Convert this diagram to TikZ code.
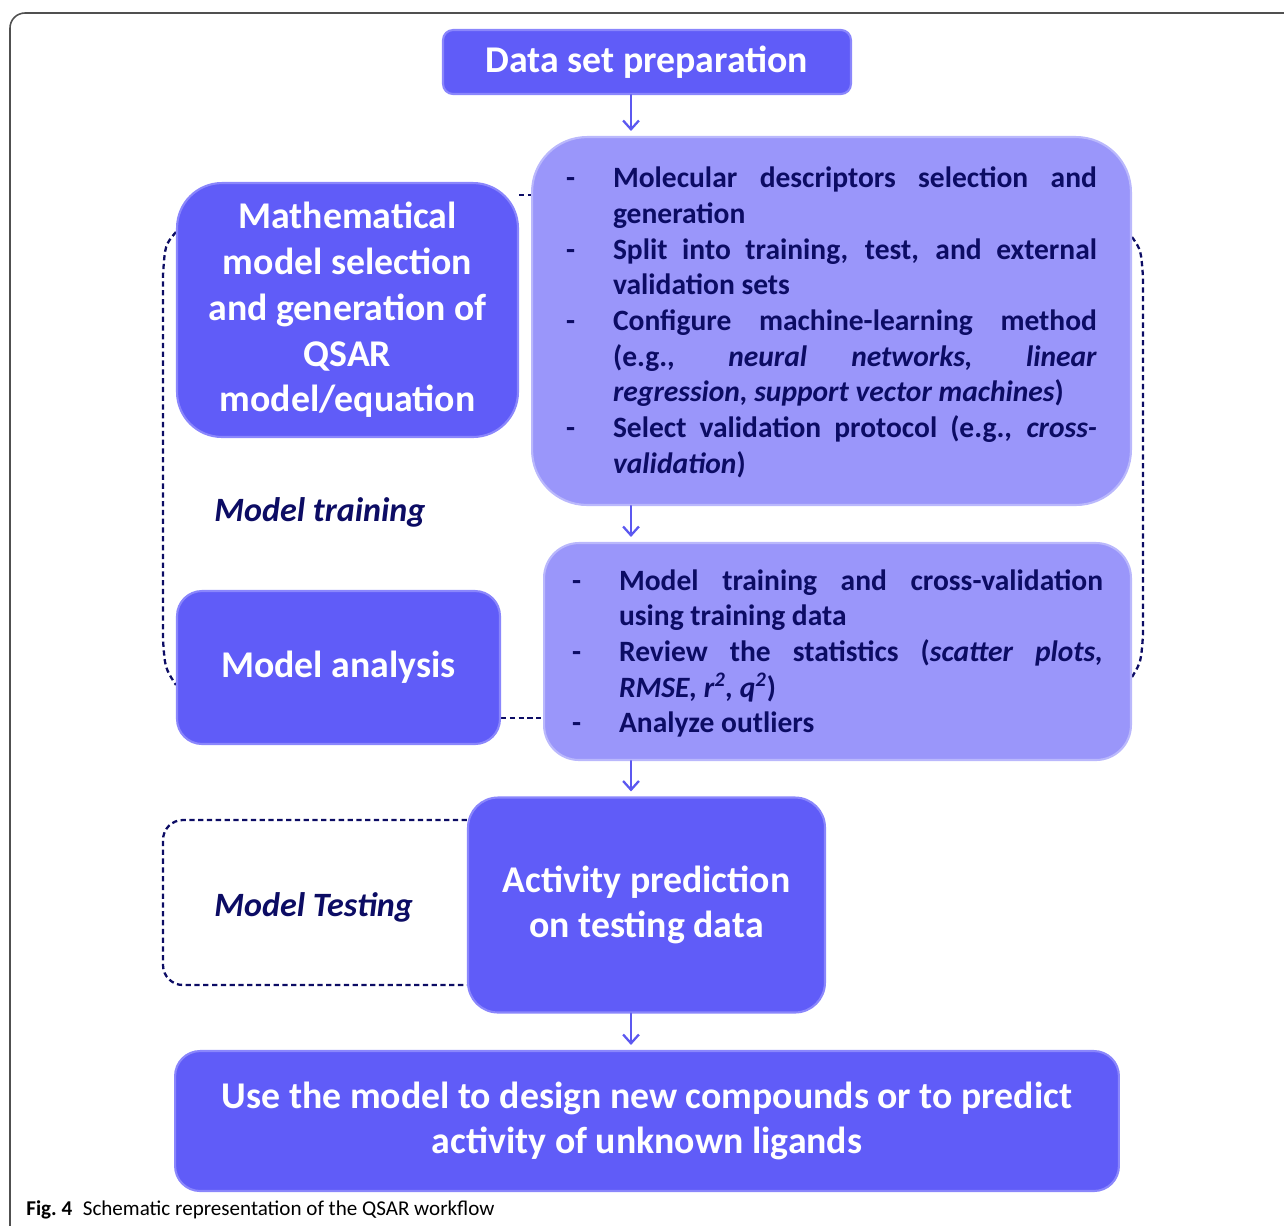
\documentclass[tikz,border=0pt]{standalone}
\usepackage{fontspec}
\setmainfont{Carlito}
\usepackage{xcolor}
\usepackage{tikz}
\usetikzlibrary{arrows.meta}
\usetikzlibrary{positioning}
\usetikzlibrary{backgrounds}
\usetikzlibrary{calc}

\definecolor{BoxBlue}{RGB}{96,92,248}
\definecolor{BoxEdge}{RGB}{138,134,252}
\definecolor{PaleBlue}{RGB}{154,150,250}
\definecolor{PaleEdge}{RGB}{186,184,252}
\definecolor{InkNavy}{RGB}{12,12,100}
\definecolor{ArrowBlue}{RGB}{92,88,240}
\definecolor{FrameGray}{RGB}{80,80,80}

\newcommand{\stepitem}{\par\noindent\hangindent=0.94cm\hangafter=1\makebox[0.94cm][l]{-}}

\tikzset{
  darkbox/.style={fill=BoxBlue, draw=BoxEdge, line width=1.2pt, text=white, align=center,
    font=\fontsize{21.5}{26}\selectfont\bfseries, inner sep=0pt},
  palebox/.style={fill=PaleBlue, draw=PaleEdge, line width=1.2pt, text=InkNavy, text width=10.62cm,
    align=justify, font=\fontsize{16.8}{20.3}\selectfont\bfseries, inner sep=0pt},
  stagelabel/.style={text=InkNavy, font=\fontsize{19.4}{23}\selectfont\bfseries\itshape, anchor=west, inner sep=0pt},
  bracket/.style={InkNavy, line width=1.3pt, dash pattern=on 3pt off 2pt},
  flow/.style={->, ArrowBlue, line width=1.3pt, shorten >=0.1cm}
}

\begin{document}
\begin{tikzpicture}[line cap=round,line join=round,x=0.02cm,y=-0.02cm,>={Straight Barb[length=5pt,width=9pt]}]
\useasboundingbox (0,0) rectangle (1284,1225);
\clip (0,0) rectangle (1284,1225);
\draw[FrameGray,line width=0.9pt,rounded corners=0.3cm] (10,13) rectangle (1310,1260);

\node[darkbox, minimum width=8.16cm, minimum height=1.28cm, rounded corners=0.2cm] (prep) at (647,62) {Data set preparation};
\node[palebox, minimum width=11.98cm, minimum height=7.36cm, rounded corners=1.1cm] (steps) at (831.5,321) {%
\stepitem Molecular descriptors selection and\linebreak generation
\stepitem Split into training, test, and external\linebreak validation sets
\stepitem Configure machine-learning method\linebreak (e.g., \textit{neural networks, linear}\linebreak \textit{regression, support vector machines})
\stepitem Select validation protocol (e.g., \textit{cross-\linebreak validation})\par\vspace*{0.24cm}};
\node[darkbox, minimum width=6.82cm, minimum height=5.08cm, rounded corners=0.9cm] (mathsel) at (347.5,310) {Mathematical\\model selection\\and generation of\\QSAR\\model/equation};
\node[stagelabel] (trainlbl) at (214,512) {Model training};
\node[darkbox, minimum width=6.46cm, minimum height=3.06cm, rounded corners=0.5cm] (analysis) at (338.5,667.5) {Model analysis};
\node[palebox, minimum width=11.74cm, minimum height=4.34cm, rounded corners=0.7cm] (evalbox) at (837.5,651.5) {%
\stepitem Model training and cross-validation\linebreak using training data
\stepitem Review the statistics (\textit{scatter plots,}\linebreak \textit{RMSE, r\textsuperscript{2}, q\textsuperscript{2}})
\stepitem Analyze outliers\par\vspace*{0.22cm}};
\node[darkbox, minimum width=7.14cm, minimum height=4.3cm, rounded corners=0.6cm] (predict) at (646.5,905) {Activity prediction\\on testing data};
\node[stagelabel] (testlbl) at (214,907) {Model Testing};
\node[darkbox, minimum width=18.88cm, minimum height=2.8cm, rounded corners=0.5cm] (usage) at (647,1121) {Use the model to design new compounds or to predict\\activity of unknown ligands};
\node[anchor=west, inner sep=0pt, font=\fontsize{12}{14}\selectfont] (caption) at (26,1210) {\textbf{Fig.~4}\hspace{0.5em}Schematic representation of the QSAR workflow};

\begin{pgfonlayer}{background}
\draw[bracket] (mathsel.east |- 0,195) -- (steps.west |- 0,195);
\draw[bracket] (mathsel.west |- 0,232) .. controls (165,245) .. (163,275) -- (163,640) .. controls (165,668) .. (analysis.west |- 0,685);
\draw[bracket] (steps.east |- 0,237) .. controls (1141,250) .. (1143,277) -- (1143,635) .. controls (1141,662) .. (evalbox.east |- 0,677);
\draw[bracket] (analysis.east |- 0,718) -- (evalbox.west |- 0,718);
\draw[bracket,rounded corners=0.4cm] (predict.west |- 0,820) -- (163,820) -- (163,985) -- (predict.west |- 0,985);
\end{pgfonlayer}

\coordinate (spine) at (631,0);
\draw[flow] (prep.south -| spine) -- (steps.north -| spine);
\draw[flow] (steps.south -| spine) -- (evalbox.north -| spine);
\draw[flow] (evalbox.south -| spine) -- (predict.north -| spine);
\draw[flow] (predict.south -| spine) -- (usage.north -| spine);
\end{tikzpicture}
\end{document}
